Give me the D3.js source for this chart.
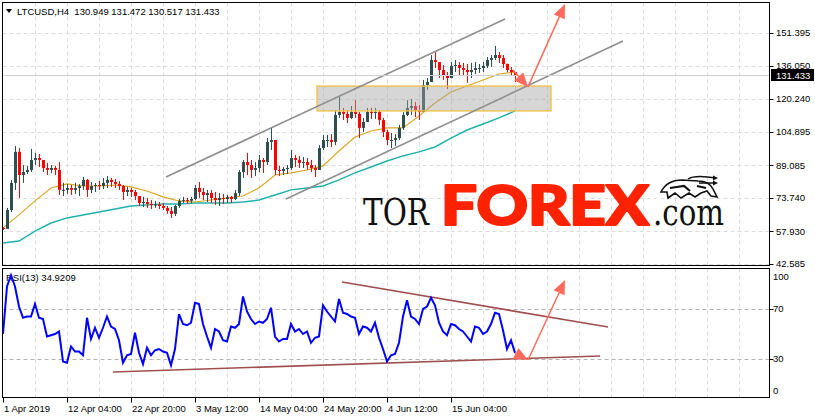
<!DOCTYPE html>
<html>
<head>
<meta charset="utf-8">
<script src="https://cdn.jsdelivr.net/npm/d3@7"></script>
<style>
  html, body { margin: 0; padding: 0; background: #fff; }
  svg { display: block; font-family: "Liberation Sans", Arial, sans-serif; }
</style>
</head>
<body>
<div id="chart"></div>
<script>
// LTCUSD H4 - one point = 4 H4 bars (16h)
var highs = [60.0,69.0,82.2,98.2,97.2,89.2,88.8,96.8,94.9,94.4,
  90.6,90.2,89.2,88.8,90.6,80.8,80.3,79.8,80.8,80.3,
  83.6,82.6,81.2,80.8,81.7,83.1,84.0,83.1,82.6,81.7,
  79.8,78.9,78.4,77.5,74.6,74.2,73.7,72.7,72.3,71.8,
  71.3,69.9,69.4,70.4,73.2,74.2,73.7,74.2,79.8,81.2,
  78.4,77.5,77.5,76.5,76.0,75.6,75.1,74.6,77.5,86.9,
  91.6,94.9,91.6,90.6,93.9,92.5,101.9,106.7,101.0,88.8,
  88.3,89.2,96.3,93.9,93.5,93.0,92.5,91.6,89.2,98.6,
  103.4,103.4,103.8,115.1,121.3,116.1,115.1,117.0,119.8,114.2,
  111.4,116.1,116.1,116.1,115.1,111.4,105.7,104.3,103.8,108.1,
  114.2,119.8,120.3,118.9,117.5,129.3,130.2,141.0,142.4,137.7,
  136.3,133.0,137.7,138.7,137.7,137.3,136.8,137.3,137.7,136.8,
  137.7,140.1,141.0,145.3,142.4,141.0,137.0,135.4,133.0];
var lows = [58.6,59.6,67.1,77.5,73.7,80.8,85.0,85.9,89.2,88.3,
  85.9,84.5,85.5,84.5,75.1,74.6,75.6,75.1,75.6,74.6,
  77.5,74.2,76.0,76.5,77.5,77.9,78.4,78.9,78.4,77.5,
  72.7,74.6,74.2,72.7,69.9,69.4,69.0,68.5,69.0,68.5,
  68.0,66.2,64.3,65.2,69.0,71.3,70.9,71.3,72.7,73.7,
  72.7,71.8,71.3,70.4,69.9,70.9,71.3,71.3,72.7,74.6,
  83.1,84.5,83.1,84.0,85.9,85.5,89.2,96.3,84.5,84.0,
  84.5,85.0,86.9,88.3,87.8,87.8,86.9,85.9,83.6,86.9,
  96.3,97.7,97.7,98.6,111.4,110.4,109.0,110.9,111.4,101.9,
  104.8,110.4,110.9,110.9,108.1,102.4,98.6,97.2,98.2,101.0,
  105.7,112.3,112.8,111.8,110.4,114.2,124.6,128.3,134.9,130.2,
  129.3,125.0,130.0,133.0,131.6,131.1,127.9,130.2,132.1,132.6,
  133.0,134.9,135.4,138.7,137.3,134.9,133.0,131.6,128.3];
var closes = [59.1,68.0,80.8,95.4,84.5,85.9,86.9,91.6,92.5,91.6,
  87.8,86.9,87.8,86.9,77.5,77.5,78.4,77.5,78.4,79.3,
  82.2,77.5,79.3,79.8,79.3,80.8,82.2,81.2,80.3,79.3,
  76.5,77.5,76.5,74.6,71.3,71.8,70.9,70.4,70.6,69.9,
  69.0,67.6,66.2,69.9,72.3,72.7,72.4,73.2,78.4,76.5,
  75.1,76.0,73.7,72.7,73.7,73.2,74.2,73.2,76.0,85.9,
  90.6,89.2,86.9,87.8,91.6,90.6,100.1,101.0,86.9,86.4,
  87.3,87.8,92.5,91.6,90.2,90.6,89.2,87.8,86.9,97.2,
  101.0,101.0,100.1,112.8,114.2,113.3,111.4,114.2,113.3,106.7,
  109.5,114.2,113.7,114.2,110.4,104.8,101.0,101.0,101.9,106.7,
  112.8,116.1,117.0,115.1,114.2,126.9,128.3,138.7,137.7,134.0,
  131.6,130.2,135.9,136.3,134.9,134.0,133.0,134.0,134.9,134.9,
  135.9,138.7,139.6,141.0,139.6,136.8,134.0,133.0,131.433];
var firstOpen = 59.6;

// moving averages, one value every 16 bars
var maFast = [59.6,65.7,72.3,78.4,80.3,79.3,79.3,79.8,78.9,77.0,
  74.2,72.3,71.8,72.7,73.7,74.6,78.4,84.5,85.5,86.9,
  88.8,95.8,102.4,105.2,106.7,106.7,112.3,118.4,123.6,126.4,
  129.3,132.1,133.0];
var maSlow = [52.5,53.4,58.1,61.9,64.3,65.7,67.1,68.5,69.9,70.4,
  70.9,70.9,71.3,71.3,71.3,71.8,72.7,75.1,77.5,78.4,
  79.3,82.2,85.5,88.3,91.1,93.5,95.4,97.7,101.9,105.7,
  108.5,111.4,114.7];

// RSI(13), one value every 4 bars
var rsi = [50,88,97,88,72,63,64,64,74,63,
  62,48,49,50,52,28,27,40,36,36,
  33,63,46,55,47,55,64,56,54,45,
  27,33,34,51,35,26,39,33,37,38,
  36,35,25,38,66,58,57,59,75,74,
  58,48,39,54,52,45,44,56,55,58,
  80,68,62,58,60,59,62,71,48,44,
  46,46,58,52,54,50,52,43,47,48,
  73,68,64,60,78,67,66,64,63,50,
  56,55,52,59,47,38,28,33,34,43,
  64,77,64,62,58,70,72,79,73,59,
  52,49,58,57,54,52,48,44,56,55,
  50,52,58,67,66,53,38,45,34.92];

var timeLabels = ["1 Apr 2019","12 Apr 04:00","22 Apr 20:00","3 May 12:00","14 May 04:00","24 May 20:00","4 Jun 12:00","15 Jun 04:00"];
var timeTickBars = [0,64,128,192,256,320,384,448];
var priceTicks = [151.395,136.050,120.240,104.895,89.085,73.740,57.930,42.585];
var rsiTicks = [100,70,30,0];
var rsiLevels = [70,30];
var lastPrice = 131.433;

// drawings on the chart: [bar, value]
var channelLines = [[[163,83.6],[502,158.0]], [[283,73.2],[620,147.6]]];
var zone = {from: 314, to: 548, top: 126.4, bottom: 114.7};
var priceArrows = [[[510,134.0],[525,126.0]], [[525,126.0],[562,165.0]]];
var rsiTrend = [[[339,91.6],[605,55.6]], [[110,19.6],[597,32.4]]];
var rsiArrows = [[[512,34.8],[525,29.2]], [[525,29.2],[562,93.2]]];

var width = 815, height = 419;
var left = 2.5, right = 769.5, mainTop = 2.5, mainBottom = 265.5, rsiTop = 268.5, rsiBottom = 397.5;

var svg = d3.select('#chart').append('svg').attr('width', width).attr('height', height);
svg.append('rect').attr('width', width).attr('height', height).attr('fill', '#fff');

var x = d3.scaleLinear().domain([0, 767]).range([3, 770]);
var y = d3.scaleLinear().domain([42.585, 151.395]).range([264, 33]);
var yr = d3.scaleLinear().domain([0, 100]).range([396.5, 271.5]);

var defs = svg.append('defs');
defs.append('clipPath').attr('id', 'clipMain').append('rect')
  .attr('x', left).attr('y', mainTop).attr('width', right - left).attr('height', mainBottom - mainTop);
defs.append('clipPath').attr('id', 'clipRsi').append('rect')
  .attr('x', left).attr('y', rsiTop).attr('width', right - left).attr('height', rsiBottom - rsiTop);

var main = svg.append('g').attr('clip-path', 'url(#clipMain)');
var sub = svg.append('g').attr('clip-path', 'url(#clipRsi)');

// grid
var gridBars = d3.range(32, 767, 32);
[[main, mainTop, mainBottom], [sub, rsiTop, rsiBottom]].forEach(function(p) {
  p[0].selectAll('line.vg').data(gridBars).enter().append('line')
    .attr('x1', function(d) { return x(d) + 0.5; }).attr('x2', function(d) { return x(d) + 0.5; })
    .attr('y1', p[1]).attr('y2', p[2])
    .attr('stroke', '#dcdcdc').attr('stroke-dasharray', '4,3');
});
main.selectAll('line.hg').data(priceTicks).enter().append('line')
  .attr('x1', left).attr('x2', right)
  .attr('y1', function(d) { return Math.round(y(d)) + 0.5; }).attr('y2', function(d) { return Math.round(y(d)) + 0.5; })
  .attr('stroke', '#dcdcdc').attr('stroke-dasharray', '4,3');
sub.selectAll('line.lv').data(rsiLevels).enter().append('line')
  .attr('x1', left).attr('x2', right)
  .attr('y1', function(d) { return Math.round(yr(d)) + 0.5; }).attr('y2', function(d) { return Math.round(yr(d)) + 0.5; })
  .attr('stroke', '#b4b4b4').attr('stroke-dasharray', '4,3');

// watermark
var wm = main.append('g');
wm.append('text').attr('x', 363).attr('y', 225).text('TOR')
  .attr('font-family', '"DejaVu Serif", serif').attr('font-size', 38)
  .attr('textLength', 66).attr('lengthAdjust', 'spacingAndGlyphs').attr('fill', '#111');
wm.append('text').attr('x', 441).attr('y', 225).text('FOREX')
  .attr('font-family', 'Lato, "Open Sans", sans-serif').attr('font-weight', 900).attr('font-size', 56)
  .attr('textLength', 208).attr('lengthAdjust', 'spacingAndGlyphs')
  .attr('fill', '#ff2200').attr('stroke', '#ff2200').attr('stroke-width', 2.2).attr('stroke-linejoin', 'round');
wm.append('text').attr('x', 653).attr('y', 225).text('.com')
  .attr('font-family', '"DejaVu Serif", serif').attr('font-size', 37)
  .attr('textLength', 71).attr('lengthAdjust', 'spacingAndGlyphs').attr('fill', '#111');
wm.append('path')
  .attr('d', 'M661,192 C665,184 672,180 682,180 L698,181 C706,181 711,185 713,189 L717,197 L711,196 L707,191 L701,193 L695,197 L689,193 L681,198 L675,193 L668,198 L667,192 Z')
  .attr('fill', '#fff').attr('stroke', '#111').attr('stroke-width', 1.6);
wm.append('path').attr('d', 'M670,188 L684,186 L690,191 M697,186 L706,188')
  .attr('fill', 'none').attr('stroke', '#111').attr('stroke-width', 2.2);
wm.append('path').attr('d', 'M688,179 C694,175 704,176 716,178 M699,183 L716,183')
  .attr('fill', 'none').attr('stroke', '#111').attr('stroke-width', 1.5);
wm.append('path').attr('d', 'M718,178 L713,175.5 L713,180.5 Z M718,183 L713,180.5 L713,185.5 Z').attr('fill', '#111');

// moving averages
var line = d3.line().x(function(d, i) { return x(i * 16); }).y(function(d) { return y(d); });
main.append('path').datum(maSlow).attr('d', line).attr('fill', 'none').attr('stroke', '#20b2aa').attr('stroke-width', 1.5);
main.append('path').datum(maFast).attr('d', line).attr('fill', 'none').attr('stroke', '#daa520').attr('stroke-width', 1.1);

// candles
var candles = closes.map(function(c, i) {
  return { bar: i * 4, open: i ? closes[i - 1] : firstOpen, high: highs[i], low: lows[i], close: c };
});
var col = function(d) { return d.close >= d.open ? '#2f4f4f' : '#ff0000'; };
main.selectAll('line.wick').data(candles).enter().append('line')
  .attr('x1', function(d) { return x(d.bar) + 0.5; }).attr('x2', function(d) { return x(d.bar) + 0.5; })
  .attr('y1', function(d) { return y(d.high); }).attr('y2', function(d) { return y(d.low); })
  .attr('stroke', col).attr('stroke-width', 1);
main.selectAll('rect.body').data(candles).enter().append('rect')
  .attr('x', function(d) { return x(d.bar) - 1; }).attr('width', 3)
  .attr('y', function(d) { return y(Math.max(d.open, d.close)); })
  .attr('height', function(d) { return Math.max(1, Math.abs(y(d.open) - y(d.close))); })
  .attr('fill', col);

// zone
main.append('rect')
  .attr('x', x(zone.from)).attr('width', x(zone.to) - x(zone.from))
  .attr('y', y(zone.top)).attr('height', y(zone.bottom) - y(zone.top))
  .attr('fill', 'rgba(165,165,165,0.45)').attr('stroke', '#f0c24a').attr('stroke-width', 1.4);

// channel
main.selectAll('line.ch').data(channelLines).enter().append('line')
  .attr('x1', function(d) { return x(d[0][0]); }).attr('y1', function(d) { return y(d[0][1]); })
  .attr('x2', function(d) { return x(d[1][0]); }).attr('y2', function(d) { return y(d[1][1]); })
  .attr('stroke', '#8f8f8f').attr('stroke-width', 1.6);

// bid line
main.append('line').attr('x1', left).attr('x2', right)
  .attr('y1', Math.round(y(lastPrice)) + 0.5).attr('y2', Math.round(y(lastPrice)) + 0.5)
  .attr('stroke', '#d0d0d0');

function arrow(g, a, b) {
  var ang = Math.atan2(b[1] - a[1], b[0] - a[0]), len = 14, half = 6;
  var bx = b[0] - len * Math.cos(ang), by = b[1] - len * Math.sin(ang);
  g.append('line').attr('x1', a[0]).attr('y1', a[1]).attr('x2', bx).attr('y2', by)
    .attr('stroke', '#ff6a5c').attr('stroke-width', 1.5);
  g.append('path')
    .attr('d', 'M' + b[0] + ',' + b[1] +
      'L' + (bx + half * Math.sin(ang)) + ',' + (by - half * Math.cos(ang)) +
      'L' + (bx - half * Math.sin(ang)) + ',' + (by + half * Math.cos(ang)) + 'Z')
    .attr('fill', '#ff6a5c');
}
priceArrows.forEach(function(s) {
  arrow(main, [x(s[0][0]), y(s[0][1])], [x(s[1][0]), y(s[1][1])]);
});

// RSI panel
sub.append('text').attr('x', 6).attr('y', 281).text('RSI(13) 34.9209')
  .attr('font-size', 9.5).attr('fill', '#000');
sub.selectAll('line.tr').data(rsiTrend).enter().append('line')
  .attr('x1', function(d) { return x(d[0][0]); }).attr('y1', function(d) { return yr(d[0][1]); })
  .attr('x2', function(d) { return x(d[1][0]); }).attr('y2', function(d) { return yr(d[1][1]); })
  .attr('stroke', '#a04f4f').attr('stroke-width', 1.6);
sub.append('path').datum(rsi)
  .attr('d', d3.line().x(function(d, i) { return x(i * 4); }).y(function(d) { return yr(d); }))
  .attr('fill', 'none').attr('stroke', '#0000ff').attr('stroke-width', 2);
rsiArrows.forEach(function(s) {
  arrow(sub, [x(s[0][0]), yr(s[0][1])], [x(s[1][0]), yr(s[1][1])]);
});

// frames
[[mainTop, mainBottom], [rsiTop, rsiBottom]].forEach(function(p) {
  svg.append('rect').attr('x', left).attr('y', p[0]).attr('width', right - left).attr('height', p[1] - p[0])
    .attr('fill', 'none').attr('stroke', '#000').attr('stroke-width', 1);
});

// header
svg.append('path').attr('d', 'M6,9 L12,9 L9,13 Z').attr('fill', '#000');
svg.append('text').attr('x', 17).attr('y', 15).text('LTCUSD,H4  130.949 131.472 130.517 131.433')
  .attr('font-size', 9.5).attr('fill', '#000').attr('xml:space', 'preserve').style('white-space', 'pre');

// price axis
var pa = svg.append('g');
pa.selectAll('line').data(priceTicks).enter().append('line')
  .attr('x1', right).attr('x2', right + 4)
  .attr('y1', function(d) { return Math.round(y(d)) + 0.5; }).attr('y2', function(d) { return Math.round(y(d)) + 0.5; })
  .attr('stroke', '#000');
pa.selectAll('text').data(priceTicks).enter().append('text')
  .attr('x', 776).attr('y', function(d) { return y(d); }).attr('dy', '0.35em')
  .attr('font-size', 9.5).attr('fill', '#000').text(function(d) { return d3.format('.3f')(d); });
pa.append('rect').attr('x', 771).attr('y', Math.round(y(lastPrice)) - 6).attr('width', 43).attr('height', 12).attr('fill', '#000');
pa.append('text').attr('x', 776).attr('y', y(lastPrice)).attr('dy', '0.35em')
  .attr('font-size', 9.5).attr('fill', '#fff').text(d3.format('.3f')(lastPrice));

// rsi axis
var ra = svg.append('g');
ra.selectAll('line').data(rsiLevels).enter().append('line')
  .attr('x1', right).attr('x2', right + 4)
  .attr('y1', function(d) { return Math.round(yr(d)) + 0.5; }).attr('y2', function(d) { return Math.round(yr(d)) + 0.5; })
  .attr('stroke', '#000');
ra.selectAll('text').data(rsiTicks).enter().append('text')
  .attr('x', 773).attr('y', function(d) { return Math.max(277, Math.min(391, yr(d))); }).attr('dy', '0.35em')
  .attr('font-size', 9.5).attr('fill', '#000').text(function(d) { return d; });

// time axis
var ta = svg.append('g');
ta.selectAll('line').data(timeTickBars).enter().append('line')
  .attr('x1', function(d) { return x(d) + 0.5; }).attr('x2', function(d) { return x(d) + 0.5; })
  .attr('y1', rsiBottom).attr('y2', rsiBottom + 5).attr('stroke', '#000');
ta.selectAll('text').data(timeTickBars).enter().append('text')
  .attr('x', function(d) { return x(d) + 1; }).attr('y', 412)
  .attr('font-size', 9.5).attr('fill', '#000').text(function(d, i) { return timeLabels[i]; });
</script>
</body>
</html>
